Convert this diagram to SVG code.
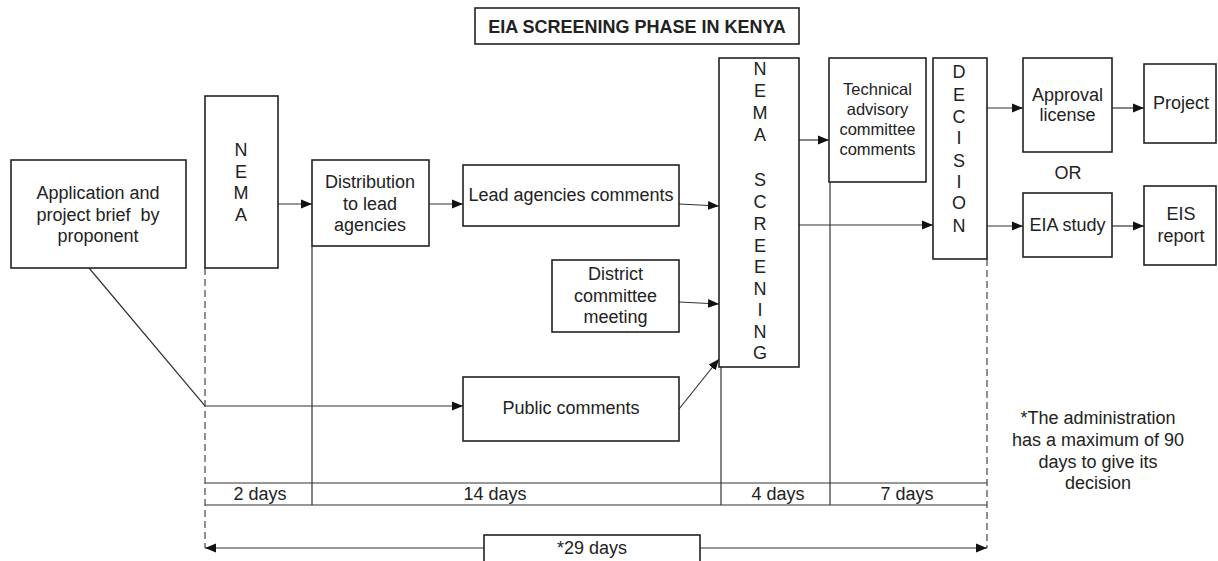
<svg xmlns="http://www.w3.org/2000/svg" width="1218" height="561" viewBox="0 0 1218 561">
<style>
  .box { fill: #fff; stroke: #222; stroke-width: 1.6; }
  .t { font-family: "Liberation Sans", Arial, sans-serif; font-size: 18px; fill: #222; text-anchor: middle; dominant-baseline: central; }
  .s { font-size: 16.5px; }
  .b { font-weight: bold; }
  .ln { stroke: #333; stroke-width: 1.2; fill: none; }
  .dash { stroke: #444; stroke-width: 1.2; fill: none; stroke-dasharray: 7 4; }
</style>
<defs>
  <marker id="ah" markerWidth="12" markerHeight="10" refX="11" refY="5" orient="auto" markerUnits="userSpaceOnUse">
    <path d="M0,0.5 L11,5 L0,9.5 Z" fill="#111"/>
  </marker>
  <marker id="ahs" markerWidth="12" markerHeight="10" refX="1" refY="5" orient="auto" markerUnits="userSpaceOnUse">
    <path d="M12,0.5 L1,5 L12,9.5 Z" fill="#111"/>
  </marker>
</defs>
<rect width="1218" height="561" fill="#fff"/>

<g id="connectors">
  <line class="ln" x1="278" y1="204" x2="312" y2="204" marker-end="url(#ah)"/>
  <line class="ln" x1="429" y1="204" x2="463" y2="204" marker-end="url(#ah)"/>
  <line class="ln" x1="679" y1="204" x2="719" y2="206" marker-end="url(#ah)"/>
  <line class="ln" x1="679" y1="302" x2="719" y2="304" marker-end="url(#ah)"/>
  <line class="ln" x1="679" y1="409" x2="719" y2="359" marker-end="url(#ah)"/>
  <polyline class="ln" points="89,268 205,406 463,406" marker-end="url(#ah)"/>
  <line class="ln" x1="799" y1="140" x2="829" y2="140" marker-end="url(#ah)"/>
  <line class="ln" x1="799" y1="225" x2="933" y2="225" marker-end="url(#ah)"/>
  <line class="ln" x1="987" y1="108" x2="1023" y2="108" marker-end="url(#ah)"/>
  <line class="ln" x1="1112" y1="108" x2="1144" y2="108" marker-end="url(#ah)"/>
  <line class="ln" x1="987" y1="226" x2="1023" y2="226" marker-end="url(#ah)"/>
  <line class="ln" x1="1112" y1="226" x2="1144" y2="226" marker-end="url(#ah)"/>
  <!-- timeline -->
  <line class="ln" x1="205" y1="483" x2="987" y2="483"/>
  <line class="ln" x1="205" y1="505" x2="987" y2="505"/>
  <line class="ln" x1="312" y1="246" x2="312" y2="505"/>
  <line class="ln" x1="721" y1="367" x2="721" y2="505"/>
  <line class="ln" x1="830" y1="182" x2="830" y2="505"/>
  <line class="dash" x1="205" y1="268" x2="205" y2="548"/>
  <line class="dash" x1="987" y1="259" x2="987" y2="548"/>
  <line class="ln" x1="205" y1="548" x2="987" y2="548" marker-start="url(#ahs)" marker-end="url(#ah)"/>
</g>

<g id="title">
  <rect class="box" x="475" y="8" width="324" height="36"/>
  <text class="t b" x="637" y="27">EIA SCREENING PHASE IN KENYA</text>
</g>

<g id="application">
  <rect class="box" x="11" y="160" width="175" height="108"/>
  <text class="t" x="98" y="193">Application and</text>
  <text class="t" x="98" y="215" xml:space="preserve">project brief  by</text>
  <text class="t" x="98" y="236">proponent</text>
</g>

<g id="nema">
  <rect class="box" x="205" y="96" width="73" height="172"/>
  <text class="t" x="241" y="150">N</text>
  <text class="t" x="241" y="172">E</text>
  <text class="t" x="241" y="193">M</text>
  <text class="t" x="241" y="215">A</text>
</g>

<g id="distribution">
  <rect class="box" x="312" y="160" width="117" height="86"/>
  <text class="t" x="370" y="182">Distribution</text>
  <text class="t" x="370" y="204">to lead</text>
  <text class="t" x="370" y="225">agencies</text>
</g>

<g id="lead-agencies">
  <rect class="box" x="463" y="165" width="216" height="61"/>
  <text class="t" x="571" y="195">Lead agencies comments</text>
</g>

<g id="district">
  <rect class="box" x="552" y="260" width="127" height="72"/>
  <text class="t" x="615.5" y="274">District</text>
  <text class="t" x="615.5" y="296">committee</text>
  <text class="t" x="615.5" y="317">meeting</text>
</g>

<g id="public">
  <rect class="box" x="463" y="377" width="216" height="64"/>
  <text class="t" x="571" y="408">Public comments</text>
</g>

<g id="nema-screening">
  <rect class="box" x="719" y="58" width="80" height="309"/>
  <text class="t" x="760" y="69">N</text>
  <text class="t" x="760" y="91">E</text>
  <text class="t" x="760" y="113">M</text>
  <text class="t" x="760" y="135">A</text>
  <text class="t" x="760" y="180">S</text>
  <text class="t" x="760" y="202">C</text>
  <text class="t" x="760" y="224">R</text>
  <text class="t" x="760" y="246">E</text>
  <text class="t" x="760" y="267">E</text>
  <text class="t" x="760" y="289">N</text>
  <text class="t" x="760" y="310">I</text>
  <text class="t" x="760" y="332">N</text>
  <text class="t" x="760" y="353">G</text>
</g>

<g id="technical">
  <rect class="box" x="829" y="58" width="97" height="124"/>
  <text class="t s" x="877.5" y="89">Technical</text>
  <text class="t s" x="877.5" y="109">advisory</text>
  <text class="t s" x="877.5" y="129">committee</text>
  <text class="t s" x="877.5" y="149">comments</text>
</g>

<g id="decision">
  <rect class="box" x="933" y="58" width="54" height="201"/>
  <text class="t" x="959" y="72">D</text>
  <text class="t" x="959" y="95">E</text>
  <text class="t" x="959" y="117">C</text>
  <text class="t" x="959" y="138">I</text>
  <text class="t" x="959" y="161">S</text>
  <text class="t" x="959" y="182">I</text>
  <text class="t" x="959" y="203">O</text>
  <text class="t" x="959" y="226">N</text>
</g>

<g id="approval">
  <rect class="box" x="1023" y="58" width="89" height="94"/>
  <text class="t" x="1067.5" y="95">Approval</text>
  <text class="t" x="1067.5" y="115">license</text>
</g>

<g id="project">
  <rect class="box" x="1144" y="64" width="72" height="79"/>
  <text class="t" x="1181" y="103">Project</text>
</g>

<g id="or">
  <text class="t" x="1068" y="173">OR</text>
</g>

<g id="eia-study">
  <rect class="box" x="1023" y="193" width="89" height="64"/>
  <text class="t" x="1067.5" y="225">EIA study</text>
</g>

<g id="eis-report">
  <rect class="box" x="1144" y="186" width="72" height="79"/>
  <text class="t" x="1181" y="214">EIS</text>
  <text class="t" x="1181" y="236">report</text>
</g>

<g id="note">
  <text class="t" x="1098" y="418">*The administration</text>
  <text class="t" x="1098" y="440">has a maximum of 90</text>
  <text class="t" x="1098" y="462">days to give its</text>
  <text class="t" x="1098" y="483">decision</text>
</g>

<g id="timeline-labels">
  <text class="t" x="260" y="494">2 days</text>
  <text class="t" x="495" y="494">14 days</text>
  <text class="t" x="778" y="494">4 days</text>
  <text class="t" x="907" y="494">7 days</text>
</g>

<g id="total">
  <rect class="box" x="484" y="535" width="216" height="30"/>
  <text class="t" x="592" y="548">*29 days</text>
</g>
</svg>
